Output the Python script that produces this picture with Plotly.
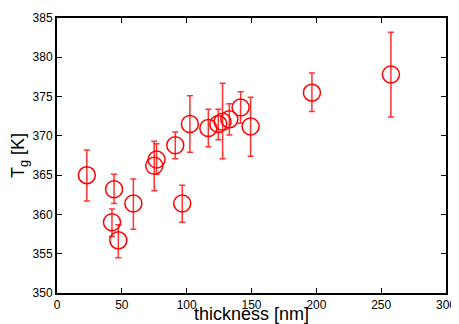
import plotly.graph_objects as go

thickness = [23, 44, 42.4, 47.3, 58.9, 75.0, 76.8, 91.2, 96.6, 102.5, 116.7, 124.4, 127.7, 132.9, 141.6, 149.3, 196.6, 257.5]
tg = [365.0, 363.2, 359.0, 356.7, 361.4, 366.2, 367.0, 368.8, 361.4, 371.5, 371.0, 371.5, 371.8, 372.1, 373.6, 371.2, 375.5, 377.8]
tg_hi = [368.2, 365.1, 360.7, 358.7, 364.5, 369.3, 369.0, 370.5, 363.7, 375.1, 373.4, 373.4, 376.7, 374.1, 375.6, 374.9, 378.0, 383.2]
tg_lo = [361.7, 361.4, 357.2, 354.5, 358.1, 363.0, 365.1, 367.1, 359.0, 367.9, 368.6, 369.5, 367.1, 370.1, 371.6, 367.4, 373.1, 372.4]

err_plus = [h - v for h, v in zip(tg_hi, tg)]
err_minus = [v - l for v, l in zip(tg, tg_lo)]

fig = go.Figure()
fig.add_trace(go.Scatter(
    x=thickness, y=tg, mode="markers",
    marker=dict(symbol="circle-open", size=17, color="#ff0000", line=dict(width=1.5, color="#ff0000")),
    error_y=dict(type="data", symmetric=False, array=err_plus, arrayminus=err_minus,
                 color="rgba(255,0,0,0.8)", thickness=1.5, width=3),
    showlegend=False,
))

font_family = "Liberation Sans, Arial, sans-serif"
axis_common = dict(
    showgrid=False, zeroline=False, showline=True, linecolor="black", linewidth=2,
    ticks="inside", ticklen=5, tickwidth=1, tickcolor="black", mirror="ticks",
    tickfont=dict(family=font_family, size=12, color="black"),
    automargin=False,
)

fig.update_xaxes(range=[0, 300], tickvals=[0, 50, 100, 150, 200, 250, 300],
                 title=dict(text="thickness [nm]", font=dict(family=font_family, size=18, color="black")),
                 **axis_common)
fig.update_yaxes(range=[350, 385], tickvals=[350, 355, 360, 365, 370, 375, 380, 385],
                 title=dict(text="T<sub>g</sub> [K]", font=dict(family=font_family, size=18, color="black")),
                 **axis_common)

# the page body adds an 8px offset, so the figure is 8px smaller and left/top margins shrink by 8
fig.update_layout(
    width=451, height=316,
    margin=dict(l=49, r=13, t=10, b=31),
    plot_bgcolor="white", paper_bgcolor="white",
)

fig.write_html("out.html")
